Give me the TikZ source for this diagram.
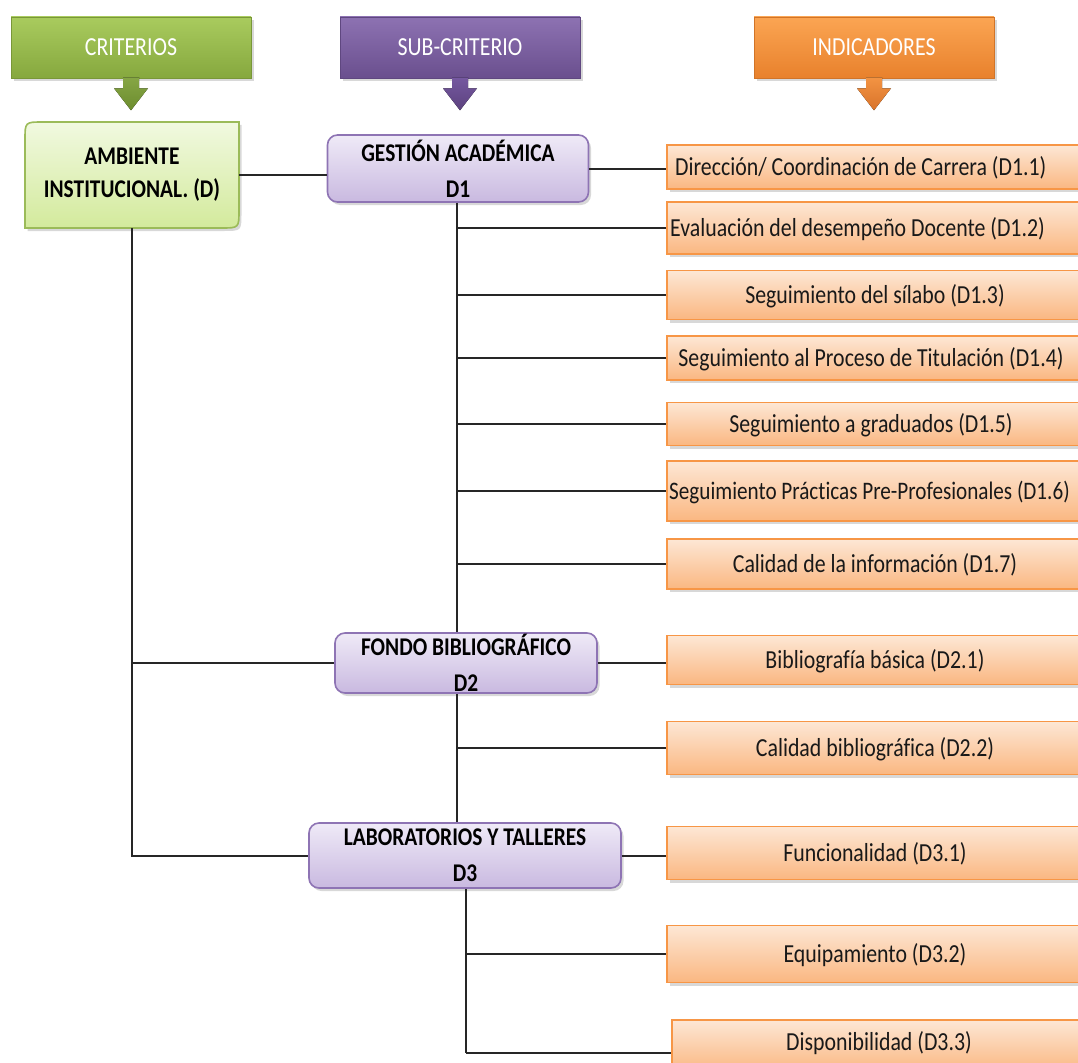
\documentclass[tikz,border=0pt]{standalone}
\usepackage{fontspec}
\setmainfont{Carlito}[FakeStretch=0.84, Ligatures={NoCommon}]
\usetikzlibrary{shadows,calc}
\definecolor{hgtop}{HTML}{A9CB5E}
\definecolor{hgbot}{HTML}{86A83E}
\definecolor{hptop}{HTML}{8D72B2}
\definecolor{hpbot}{HTML}{6A4F8E}
\definecolor{hotop}{HTML}{FBA553}
\definecolor{hobot}{HTML}{E8812C}
\definecolor{agtop}{HTML}{86A645}
\definecolor{agbot}{HTML}{6C8C2E}
\definecolor{aptop}{HTML}{7558A0}
\definecolor{apbot}{HTML}{5C427E}
\definecolor{aotop}{HTML}{F39443}
\definecolor{aobot}{HTML}{D8732A}
\definecolor{ambtop}{HTML}{F1F9E0}
\definecolor{ambbot}{HTML}{D3EA9C}
\definecolor{ambbrd}{HTML}{9BBB59}
\definecolor{subtop}{HTML}{EFEAF7}
\definecolor{subbot}{HTML}{C9B9E0}
\definecolor{subbrd}{HTML}{8E74B4}
\definecolor{indtop}{HTML}{FDE7D5}
\definecolor{indbot}{HTML}{FAB781}
\definecolor{indbrd}{HTML}{F79646}
\newcommand\hdrarrow[3]{%
  \fill[top color=#2, bottom color=#3, shift={(#1.south)}]
    (-8,-1) -- (8,-1) -- (8,10) -- (17,10) -- (0,32) -- (-17,10) -- (-8,10) -- cycle;}
\begin{document}
\begin{tikzpicture}[x=1pt,y=-1pt,
  shadowed/.style={drop shadow={opacity=0.3, shadow xshift=2.5pt, shadow yshift=-3pt}},
  hdr/.style={rectangle, shadowed, minimum width=240pt, minimum height=61pt, inner sep=0pt,
    text=white, font=\fontsize{26}{30}\selectfont},
  subbox/.style={rectangle, shadowed, rounded corners=10pt, draw=subbrd, line width=1.6pt,
    top color=subtop, bottom color=subbot, align=center, inner sep=0pt,
    font=\bfseries\fontsize{25.5}{36}\selectfont},
  indbox/.style={rectangle, shadowed, draw=indbrd, line width=1.6pt,
    top color=indtop, bottom color=indbot, minimum width=416pt, inner sep=0pt},
  indtxt/.style={font=\fontsize{26}{30}\selectfont, text=black!90, inner sep=0pt},
  link/.style={line width=2pt, draw=black!85}]
\useasboundingbox (0,0) rectangle (1078,1062);
\fill[white] (0,0) rectangle (1078,1062);
\clip (0,0) rectangle (1078,1062);

% headers
\node[hdr, top color=hgtop, bottom color=hgbot, draw=hgbot!90!black, line width=0.6pt] (hcrit) at (131,47.5) {CRITERIOS};
\node[hdr, top color=hptop, bottom color=hpbot, draw=hpbot!90!black, line width=0.6pt] (hsub) at (460,47.5) {SUB-CRITERIO};
\node[hdr, top color=hotop, bottom color=hobot, draw=hobot!90!black, line width=0.6pt] (hind) at (874,47.5) {INDICADORES};
\hdrarrow{hcrit}{agtop}{agbot}
\hdrarrow{hsub}{aptop}{apbot}
\hdrarrow{hind}{aotop}{aobot}

% criterio box (rounded diagonal corners)
\path[shadowed, draw=ambbrd, line width=1.6pt, top color=ambtop, bottom color=ambbot]
  (25,140) .. controls (25,122) .. (43,122) -- (239,122) -- (239,210)
  .. controls (239,228) .. (221,228) -- (25,228) -- cycle;
\node[minimum width=214pt, minimum height=106pt, inner sep=0pt, align=center,
  font=\bfseries\fontsize{25.5}{33}\selectfont] (amb) at (132,175) {AMBIENTE\\INSTITUCIONAL. (D)};

% sub-criteria
\node[subbox, minimum width=261pt, minimum height=67pt] (g1) at (458,168.5) {GESTIÓN ACADÉMICA\\D1};
\node[subbox, minimum width=262pt, minimum height=60pt] (g2) at (466,663) {FONDO BIBLIOGRÁFICO\\D2};
\node[subbox, minimum width=312pt, minimum height=65pt] (g3) at (465,855.5) {LABORATORIOS Y TALLERES\\D3};

% indicators
\node[indbox, minimum height=44pt] (d11) at (875,167) {};
\node[indbox, minimum height=52pt] (d12) at (875,228) {};
\node[indbox, minimum height=49pt] (d13) at (875,295) {};
\node[indbox, minimum height=44pt] (d14) at (875,358) {};
\node[indbox, minimum height=43pt] (d15) at (875,424) {};
\node[indbox, minimum height=60pt] (d16) at (875,491) {};
\node[indbox, minimum height=50pt] (d17) at (875,564) {};
\node[indbox, minimum height=49pt] (d21) at (875,660) {};
\node[indbox, minimum height=53pt] (d22) at (875,748) {};
\node[indbox, minimum height=53pt] (d31) at (875,853) {};
\node[indbox, minimum height=57pt] (d32) at (875,954) {};
\node[indbox, minimum height=52pt] (d33) at (880,1046) {};

\node[indtxt, anchor=west] (d11t) at (675,168) {Dirección/ Coordinación de Carrera (D1.1)};
\node[indtxt, anchor=west] (d12t) at (670,229) {Evaluación del desempeño Docente (D1.2)};
\node[indtxt] (d13t) at (875,296) {Seguimiento del sílabo (D1.3)};
\node[indtxt] (d14t) at (871,359) {Seguimiento al Proceso de Titulación (D1.4)};
\node[indtxt] (d15t) at (871,425) {Seguimiento a graduados (D1.5)};
\node[indtxt, anchor=west, font=\fontsize{25.2}{30}\selectfont] (d16t) at (669,492) {Seguimiento Prácticas Pre-Profesionales (D1.6)};
\node[indtxt] (d17t) at (875,565) {Calidad de la información (D1.7)};
\node[indtxt] (d21t) at (875,661) {Bibliografía básica (D2.1)};
\node[indtxt] (d22t) at (875,749) {Calidad bibliográfica (D2.2)};
\node[indtxt] (d31t) at (875,854) {Funcionalidad (D3.1)};
\node[indtxt] (d32t) at (875,955) {Equipamiento (D3.2)};
\node[indtxt] (d33t) at (879,1043) {Disponibilidad (D3.3)};

% connectors
\draw[link] (amb.east) -- (amb.east -| g1.west);
\draw[link] (amb.south) -- (amb.south |- g3.west) -- (g3.west);
\draw[link] (amb.south |- g2.west) -- (g2.west);

\coordinate (tr) at (457,0);
\draw[link] (tr |- g1.south) -- (tr |- g2.north);
\draw[link] (tr |- g2.south) -- (tr |- g3.north);
\draw[link] (g1.east) -- (g1.east -| d11.west);
\foreach \d in {d12,d13,d14,d15,d16,d17}
  \draw[link] (tr |- \d.west) -- (\d.west);
\draw[link] (g2.east) -- (g2.east -| d21.west);
\draw[link] (tr |- d22.west) -- (d22.west);

\coordinate (c33) at (466,1053);
\draw[link] (c33 |- g3.south) -- (c33);
\draw[link] (g3.east) -- (g3.east -| d31.west);
\draw[link] (c33 |- d32.west) -- (d32.west);
\draw[link] (c33) -- (c33 -| d33.west);
\end{tikzpicture}
\end{document}
